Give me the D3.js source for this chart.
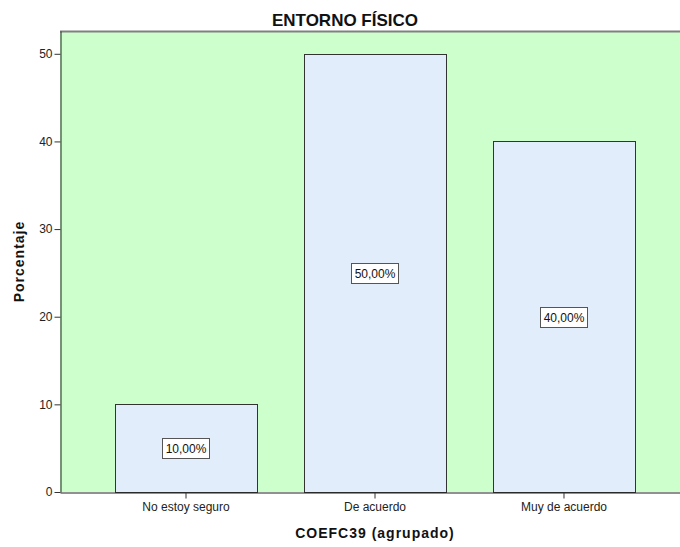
<!DOCTYPE html>
<html>
<head>
<meta charset="utf-8">
<script src="https://cdn.jsdelivr.net/npm/d3@7"></script>
<style>
  body { margin: 0; background: #fff; }
  svg { display: block; font-family: "Liberation Sans", Arial, sans-serif; }
</style>
</head>
<body>
<div id="chart"></div>
<script>
// data
var categories = ["No estoy seguro", "De acuerdo", "Muy de acuerdo"];
var percents = [10, 50, 40];
var yTicks = [0, 10, 20, 30, 40, 50];

var W = 680, H = 547;

var svg = d3.select("#chart").append("svg")
    .attr("width", W)
    .attr("height", H);

// plot area (right side is cut off at the edge, like the picture)
var plot = {'left': 60, 'right': 690, 'top': 31, 'bottom': 492};

var x = d3.scaleBand()
    .domain(categories)
    .range([plot.left, plot.right])
    .paddingInner(0.25)
    .paddingOuter(0.2917);

var y = d3.scaleLinear()
    .domain([0, 52.6])
    .range([plot.bottom, plot.top]);

// green background
svg.append("rect")
    .attr("x", plot.left)
    .attr("y", plot.top)
    .attr("width", plot.right - plot.left)
    .attr("height", plot.bottom - plot.top)
    .attr("fill", "#ccffcc");

// grey top frame line
svg.append("line")
    .attr("x1", plot.left).attr("x2", W)
    .attr("y1", plot.top + 0.5).attr("y2", plot.top + 0.5)
    .attr("stroke", "#808080")
    .attr("stroke-width", 2);

// bars
svg.append("g").selectAll("rect.bar")
    .data(percents)
    .enter()
    .append("rect")
    .classed("bar", true)
    .attr("x", function(d, i) { return Math.round(x(categories[i])) + 0.5; })
    .attr("y", function(d) { return Math.round(y(d)) + 0.5; })
    .attr("width", Math.round(x.bandwidth()))
    .attr("height", function(d) { return Math.round(y(0)) - Math.round(y(d)); })
    .attr("fill", "#e1edfb")
    .attr("stroke", "#333")
    .attr("stroke-width", 1);

// value labels with boxes
var labels = svg.append("g").selectAll("g.lbl")
    .data(percents)
    .enter()
    .append("g")
    .classed("lbl", true)
    .attr("transform", function(d, i) {
        return "translate(" + Math.round(x(categories[i]) + x.bandwidth() / 2) + "," + Math.round(y(d / 2)) + ")";
    });

labels.append("rect")
    .attr("x", -23.5)
    .attr("y", -9.5)
    .attr("width", 47)
    .attr("height", 20)
    .attr("fill", "#fff")
    .attr("stroke", "#555");

labels.append("text")
    .attr("text-anchor", "middle")
    .attr("y", 5)
    .attr("font-size", "12px")
    .attr("fill", "#111")
    .text(function(d) { return d.toFixed(2).replace(".", ",") + "%"; });

// y axis
var yAxis = d3.axisLeft(y)
    .tickValues(yTicks)
    .tickSize(6)
    .tickSizeOuter(0)
    .tickPadding(2);

var gy = svg.append("g")
    .attr("transform", "translate(" + (plot.left + 0.5) + ",0)")
    .call(yAxis);
gy.select(".domain").attr("stroke", "#222");
gy.selectAll(".tick line").attr("stroke", "#333");
gy.selectAll(".tick text")
    .attr("font-size", "12px")
    .attr("font-family", "Liberation Sans, Arial, sans-serif")
    .attr("fill", "#222");

// x axis
var xAxis = d3.axisBottom(x)
    .tickSize(6)
    .tickSizeOuter(0)
    .tickPadding(4);

var gx = svg.append("g")
    .attr("transform", "translate(0," + (plot.bottom + 0.5) + ")")
    .call(xAxis);
gx.select(".domain").attr("stroke", "#222");
gx.selectAll(".tick line").attr("stroke", "#333");
gx.selectAll(".tick text")
    .attr("font-size", "12px")
    .attr("font-family", "Liberation Sans, Arial, sans-serif")
    .attr("fill", "#222");

// titles
svg.append("text")
    .attr("x", 345)
    .attr("y", 26)
    .attr("text-anchor", "middle")
    .attr("font-size", "17px")
    .attr("font-weight", "bold")
    .attr("fill", "#111")
    .text("ENTORNO FÍSICO");

svg.append("text")
    .attr("x", 375)
    .attr("y", 538)
    .attr("text-anchor", "middle")
    .attr("font-size", "14px")
    .attr("font-weight", "bold")
    .attr("letter-spacing", "1px")
    .attr("fill", "#111")
    .text("COEFC39 (agrupado)");

svg.append("text")
    .attr("transform", "translate(24," + ((plot.top + plot.bottom) / 2) + ") rotate(-90)")
    .attr("text-anchor", "middle")
    .attr("font-size", "14px")
    .attr("font-weight", "bold")
    .attr("letter-spacing", "1px")
    .attr("fill", "#111")
    .text("Porcentaje");
</script>
</body>
</html>
